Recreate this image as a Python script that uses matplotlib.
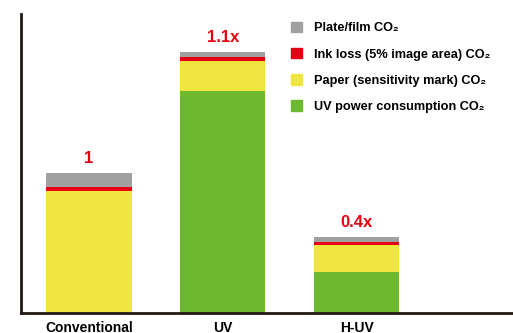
import numpy as np
import matplotlib

matplotlib.use("Agg")
import matplotlib.pyplot as plt
from matplotlib.patches import Patch

plt.rcParams["font.family"] = ["Liberation Sans", "DejaVu Sans"]

categories = ["Conventional", "UV", "H-UV"]
green_uv = [0.0, 1.59, 0.293]
yellow_paper = [0.875, 0.215, 0.193]
red_ink = [0.029, 0.024, 0.024]
gray_plate = [0.096, 0.038, 0.031]
ratio_labels = ["1", "1.1x", "0.4x"]

legend_labels = [
    "Plate/film CO₂",
    "Ink loss (5% image area) CO₂",
    "Paper (sensitivity mark) CO₂",
    "UV power consumption CO₂",
]
colors = ["#a0a0a0", "#e60012", "#eee63e", "#6cb82e"]

fig = plt.figure(figsize=(5.13, 3.33), dpi=100)
ax = fig.add_axes([21 / 513, 20 / 333, 492 / 513, 299 / 333])

x = np.arange(len(categories))
w = 0.637
bottom = np.zeros(len(categories))
for vals, c in zip([green_uv, yellow_paper, red_ink, gray_plate], colors[::-1]):
    ax.bar(x, vals, w, bottom=bottom, color=c, linewidth=0)
    bottom += np.array(vals)

for xi, top, lab in zip(x, bottom, ratio_labels):
    ax.text(xi, top + 0.05, lab, ha="center", va="bottom", color="#e60012",
            fontsize=12, fontweight="bold")

ax.set_xlim(-0.509, 3.17)
ax.set_ylim(0, 2.14)
ax.set_yticks([])
ax.set_xticks(x)
ax.set_xticklabels(categories, fontsize=10, fontweight="bold")
ax.tick_params(axis="x", length=0, pad=6)
for s in ["top", "right"]:
    ax.spines[s].set_visible(False)
for s in ["left", "bottom"]:
    ax.spines[s].set_linewidth(2)
    ax.spines[s].set_color("#231815")

handles = [Patch(color=c) for c in colors]
leg = ax.legend(handles, legend_labels, loc="upper left",
                bbox_to_anchor=(262 / 492, 1.0), frameon=False,
                handlelength=0.9, handleheight=0.9, handletextpad=0.9,
                labelspacing=1.05, borderaxespad=0.2,
                prop={"weight": "bold", "size": 9.2})

fig.savefig("out.png", dpi=100)
